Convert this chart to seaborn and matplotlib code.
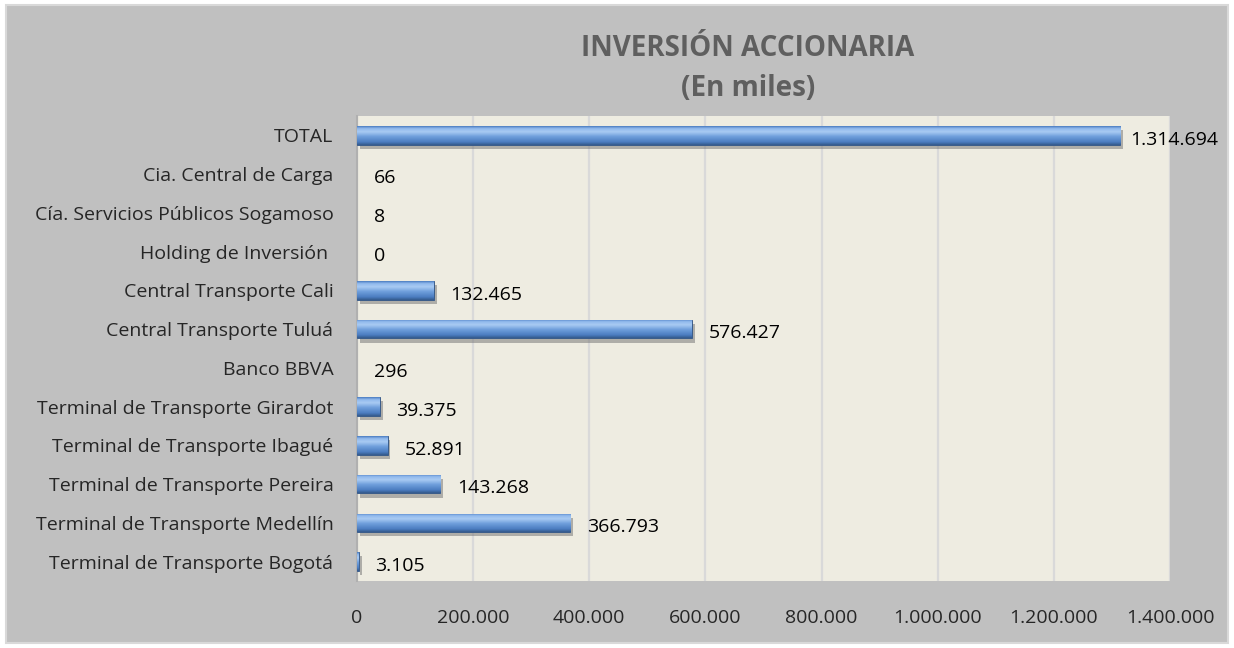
import numpy as np
import pandas as pd
import matplotlib
matplotlib.use("Agg")
import matplotlib.pyplot as plt
import matplotlib.patheffects as pe
from matplotlib.patches import Rectangle
from matplotlib.colors import LinearSegmentedColormap
import seaborn as sns

# datos (en miles)
categorias = ["TOTAL", "Cia. Central de Carga", "Cía. Servicios Públicos Sogamoso",
              "Holding de Inversión ", "Central Transporte Cali", "Central Transporte Tuluá",
              "Banco BBVA", "Terminal de Transporte Girardot", "Terminal de Transporte Ibagué",
              "Terminal de Transporte Pereira", "Terminal de Transporte Medellín",
              "Terminal de Transporte Bogotá"]
valores = [1314694, 66, 8, 0, 132465, 576427, 296, 39375, 52891, 143268, 366793, 3105]
ticks_x = [0, 200000, 400000, 600000, 800000, 1000000, 1200000, 1400000]


def fmt_miles(v):
    return f"{v:,.0f}".replace(",", ".")


df = pd.DataFrame({"empresa": categorias, "valor": valores})

sns.set_style("white")
plt.rcParams["font.family"] = ["Open Sans", "DejaVu Sans"]
FS = 14

fig = plt.figure(figsize=(12.34, 6.48), dpi=100, facecolor="white")
fig.patches.append(Rectangle((6 / 1234, 5 / 648), 1222 / 1234, 638 / 648,
                             transform=fig.transFigure, facecolor="#c0c0c0",
                             edgecolor="#d9d9d9", linewidth=1.5, zorder=-10))

ax = fig.add_axes([357 / 1234, 1 - 581 / 648, 813 / 1234, 465 / 648])
ax.set_facecolor("#eeece1")

sns.barplot(data=df, x="valor", y="empresa", ax=ax, color="#4f81bd",
            width=0.48, saturation=1, zorder=3)

ax.set_xlim(0, 1400000)
ax.set_xticks(ticks_x)
ax.set_xticklabels([fmt_miles(t) for t in ticks_x])
ax.grid(axis="x", color="#d9d9d9", linewidth=1.6, zorder=0)
ax.grid(axis="y", visible=False)
for s in ["top", "right", "bottom"]:
    ax.spines[s].set_visible(False)
ax.spines["left"].set_color("#b0b0b0")
ax.spines["left"].set_linewidth(1.5)
ax.tick_params(axis="x", length=0, pad=20, labelsize=FS)
ax.tick_params(axis="y", length=0, pad=17, labelsize=FS)
ax.set_xlabel("")
ax.set_ylabel("")

# gradiente tipo bisel de Excel
cmap = LinearSegmentedColormap.from_list(
    "bisel", [(0.0, "#4a7cc0"), (0.12, "#8fb8ec"), (0.3, "#a9cbf3"),
              (0.55, "#6f9fdc"), (0.85, "#4b7cc0"), (1.0, "#345a8c")])
grad = np.linspace(0, 1, 64).reshape(-1, 1)
for p in ax.patches:
    w = p.get_width()
    if w < 1000:
        p.set_visible(False)
        continue
    x0, y0, h = p.get_x(), p.get_y(), p.get_height()
    p.set_path_effects([pe.SimplePatchShadow(offset=(2, -3), shadow_rgbFace="#707070", alpha=0.5),
                        pe.Normal()])
    p.set_edgecolor("#2f5283")
    p.set_linewidth(0.6)
    im = ax.imshow(grad, cmap=cmap, aspect="auto", extent=(x0, x0 + w, y0 + h, y0),
                   origin="upper", zorder=4, interpolation="bilinear")
    im.set_clip_path(p)
ax.set_ylim(len(categorias) - 0.5, -0.5)
ax.set_xlim(0, 1400000)

# etiquetas de valor
for i, v in enumerate(valores):
    off = 7 if v > 1000000 else 12
    ax.annotate(fmt_miles(v), xy=(v, i), xytext=(off, -3), textcoords="offset points",
                ha="left", va="center", fontsize=FS, color="black", zorder=6,
                annotation_clip=False)

fig.text(748 / 1234, 1 - 69 / 648, "INVERSIÓN ACCIONARIA\n(En miles)", ha="center",
         va="center", fontsize=20, fontweight="bold", color="#5f5f5f", linespacing=1.5)

fig.savefig("out.png", dpi=100, facecolor="white")
